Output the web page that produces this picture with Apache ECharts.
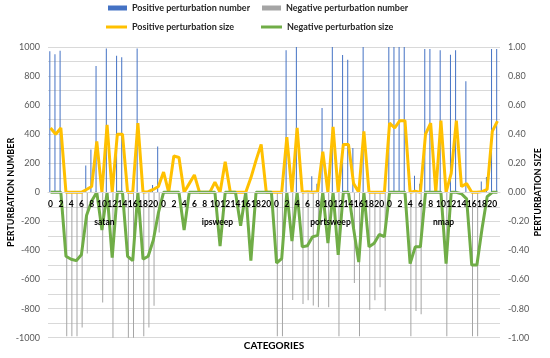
<!DOCTYPE html>
<html><head><meta charset="utf-8">
<script src="https://cdn.jsdelivr.net/npm/echarts@6/dist/echarts.min.js"></script>
<style>html,body{margin:0;padding:0;background:#fff}#c{width:550px;height:358px}</style>
</head><body><div id="c"></div>
<script>
// groups and per-group feature labels
const groups = ['satan', 'ipsweep', 'portsweep', 'nmap'];
const features = ['0','1','2','3','4','5','6','7','8','9','10','11','12','13','14','15','16','17','18','19','20','21'];

// Positive perturbation number (bars, left axis) — satan | ipsweep | portsweep | nmap
const posNumber = [
  970,950,975,0,0,0,0,185,295,870,0,990,0,940,930,0,0,990,0,0,50,315,
  0,0,0,0,0,0,0,0,0,0,0,0,0,0,0,0,0,0,0,0,0,0,
  0,0,977,0,1000,0,0,110,60,580,0,1000,0,945,913,305,0,1000,0,0,0,0,
  1000,1000,1000,1000,0,115,60,986,986,0,977,0,947,977,0,764,0,0,75,105,986,986
];
// Negative perturbation number (bars, left axis)
const negNumber = [
  0,0,0,-990,-990,-990,-930,-420,0,0,-757,0,-1000,0,0,-1000,-1000,0,-990,-930,-780,-277,
  0,0,0,0,0,0,0,0,0,0,0,0,0,0,0,0,0,0,0,0,0,0,
  -990,-990,0,-740,0,-768,-743,-779,-791,0,-791,0,-990,0,0,-623,-990,0,-807,-743,-653,-814,
  0,0,0,0,-990,-817,-838,0,0,0,0,-990,0,0,0,0,-990,-990,0,0,0,0
];
// Positive perturbation size (line, right axis)
const posSize = [
  0.443,0.40,0.443,0,0,0,0,0.02,0.04,0.35,0,0.465,0,0.40,0.40,0,0,0.477,0,0.005,0.02,0.04,
  0.14,0,0.25,0.24,0,0.06,0.12,0,0,0,0.07,0,0.21,0,0,0,0,0.10,0.22,0.33,0,0,
  0,0,0.38,0,0.443,0,0.005,0,0.005,0.28,0,0.45,0,0.33,0.33,0.06,0,0.42,0,0,0,0,
  0.477,0.443,0.493,0.493,0,0.007,0,0.40,0.477,0,0.493,0,0.13,0.493,0.04,0.06,0,0,0.005,0.02,0.42,0.49
];
// Negative perturbation size (line, right axis)
const negSize = [
  0,0,0,-0.44,-0.46,-0.47,-0.43,-0.16,-0.06,0,-0.26,0,-0.45,0,0,-0.44,-0.47,0,-0.46,-0.44,-0.33,-0.14,
  0,0,0,0,-0.26,0,0,0,0,0,0,-0.37,0,0,0,-0.23,0,-0.47,0,0,0,0,
  -0.486,-0.456,0,-0.336,0,-0.375,-0.368,-0.306,-0.296,0,-0.35,0,-0.43,0,0,-0.25,-0.48,0,-0.375,-0.35,-0.29,-0.305,
  0,0,0,0,-0.49,-0.375,-0.375,0,0,0,0,-0.49,0,0,-0.01,-0.045,-0.5,-0.5,-0.25,-0.03,0,0
];
const leftTicks = [-1000,-800,-600,-400,-200,0,200,400,600,800,1000];

const categories = [];
groups.forEach(() => features.forEach(f => categories.push(f)));

const FONT = 'Lato';
const GRID_TOP = 47, GRID_BOTTOM = 20.3, H = 358;
const plotH = H - GRID_TOP - GRID_BOTTOM;
const zeroShift = -plotH / 2; // move x axes up to the zero line (axis range is symmetric)

const chart = echarts.init(document.getElementById('c'), null, {renderer: 'canvas'});
const legendText = {fontSize: 9, fontWeight: 'bold', color: '#262626', fontFamily: FONT};
chart.setOption({
  animation: false,
  textStyle: {fontFamily: FONT},
  legend: [
    {data: ['Positive perturbation number'], left: 108, top: 3.5, padding: 0, icon: 'rect', itemWidth: 19, itemHeight: 5, textStyle: legendText},
    {data: ['Negative perturbation number'], left: 262, top: 3.5, padding: 0, icon: 'rect', itemWidth: 19, itemHeight: 5, textStyle: legendText},
    {data: ['Positive perturbation size'], left: 106, top: 22.5, padding: 0, icon: 'rect', itemWidth: 21, itemHeight: 3, textStyle: legendText},
    {data: ['Negative perturbation size'], left: 261, top: 22.5, padding: 0, icon: 'rect', itemWidth: 21, itemHeight: 3, textStyle: legendText}
  ],
  grid: {left: 48, right: 50, top: GRID_TOP, bottom: GRID_BOTTOM, containLabel: false, outerBoundsMode: 'none'},
  xAxis: [
    {
      type: 'category', data: categories, boundaryGap: true, offset: zeroShift, z: 10,
      axisLine: {show: true, onZero: false, lineStyle: {color: '#d9d9d9'}},
      axisTick: {show: false},
      axisLabel: {interval: 1, margin: 7, fontSize: 8.5, fontWeight: 'bold', color: '#000', fontFamily: FONT},
      splitLine: {show: false},
      name: 'CATEGORIES', nameLocation: 'middle', nameGap: 148, nameMoveOverlap: false,
      nameTextStyle: {fontSize: 10, fontWeight: 'bold', color: '#000', fontFamily: FONT}
    },
    {
      type: 'category', data: groups, boundaryGap: true, position: 'bottom', offset: zeroShift, z: 10,
      axisLine: {show: false, onZero: false},
      axisTick: {show: false},
      axisLabel: {margin: 25, fontSize: 8.5, fontWeight: 'bold', color: '#000', fontFamily: FONT},
      splitLine: {show: false}
    }
  ],
  yAxis: [
    {
      type: 'value', min: -1000, max: 1000, interval: 100,
      axisLine: {show: false}, axisTick: {show: false},
      axisLabel: {margin: 8, fontSize: 9, color: '#595959', fontFamily: FONT,
        formatter: v => leftTicks.indexOf(Math.round(v)) >= 0 ? String(Math.round(v)) : ''},
      splitLine: {show: true, lineStyle: {color: '#d9d9d9', width: 1}},
      name: 'PERTURBATION NUMBER', nameLocation: 'middle', nameRotate: 90, nameGap: 32, nameMoveOverlap: false,
      nameTextStyle: {fontSize: 9, fontWeight: 'bold', color: '#000', fontFamily: FONT}
    },
    {
      type: 'value', min: -1, max: 1, interval: 0.1, position: 'right',
      axisLine: {show: false}, axisTick: {show: false},
      axisLabel: {margin: 8, fontSize: 9, color: '#595959', fontFamily: FONT,
        formatter: v => (Math.round(v * 10) % 2 === 0) ? v.toFixed(2) : ''},
      splitLine: {show: false},
      name: 'PERTURBATION SIZE', nameLocation: 'middle', nameRotate: 90, nameGap: 34, nameMoveOverlap: false,
      nameTextStyle: {fontSize: 9, fontWeight: 'bold', color: '#000', fontFamily: FONT}
    }
  ],
  series: [
    {name: 'Positive perturbation number', type: 'bar', data: posNumber, barWidth: 1, barGap: '50%',
      itemStyle: {color: '#4472C4'}},
    {name: 'Negative perturbation number', type: 'bar', data: negNumber, barWidth: 1,
      itemStyle: {color: '#A5A5A5'}},
    {name: 'Positive perturbation size', type: 'line', yAxisIndex: 1, data: posSize, symbol: 'none',
      lineStyle: {color: '#FFC000', width: 3}, itemStyle: {color: '#FFC000'}},
    {name: 'Negative perturbation size', type: 'line', yAxisIndex: 1, data: negSize, symbol: 'none',
      lineStyle: {color: '#70AD47', width: 3}, itemStyle: {color: '#70AD47'}}
  ]
});
</script></body></html>
